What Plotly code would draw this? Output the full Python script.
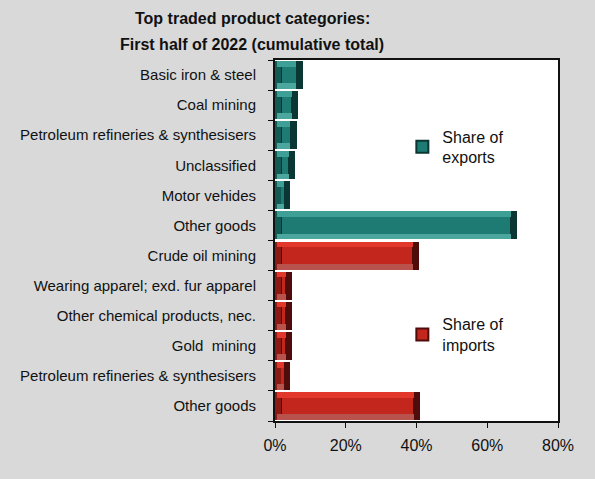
import plotly.graph_objects as go

# Top traded product categories, first half of 2022 (share of cumulative total, %)
export_categories = ["Basic iron & steel", "Coal mining", "Petroleum refineries & synthesisers",
                     "Unclassified", "Motor vehides", "Other goods"]
export_shares = [7.8, 6.6, 6.1, 5.7, 4.3, 68.5]

import_categories = ["Crude oil mining", "Wearing apparel; exd. fur apparel",
                     "Other chemical products, nec.", "Gold  mining",
                     "Petroleum refineries & synthesisers", "Other goods"]
import_shares = [40.7, 4.8, 4.8, 4.8, 4.2, 41.1]

x_ticks = [0, 20, 40, 60, 80]
x_tick_labels = ["0%", "20%", "40%", "60%", "80%"]

title_lines = ["Top traded product categories:", "First half of 2022 (cumulative total)"]

categories = export_categories + import_categories
positions = list(range(len(categories)))
exp_pos = positions[:len(export_categories)]
imp_pos = positions[len(export_categories):]

FONT = "Liberation Sans, Arial, sans-serif"
BAR_W = 0.93
BEVEL = 2.0  # depth of the bevelled ends, in axis units

palettes = {
    "exp": dict(dark="#0a3633", left="#145a54", top="#3e9f96", bottom="#4ba69d", face="#1d7b73"),
    "imp": dict(dark="#4e0d0a", left="#8c1a14", top="#e2382c", bottom="#b8524d", face="#c2261c"),
}

fig = go.Figure()


def add_bevel_bars(pos, vals, pal, name, legend):
    bev = [min(BEVEL, v * 0.42) for v in vals]
    band_x = [v - b * 0.9 - b * 0.3 for v, b in zip(vals, bev)]
    band_base = [b * 0.3 for b in bev]
    # dark body: shows at the bevelled right end
    fig.add_trace(go.Bar(y=pos, x=vals, orientation="h", width=BAR_W,
                         marker=dict(color=pal["dark"], line=dict(width=0)),
                         showlegend=False, hoverinfo="skip"))
    # shaded left end
    fig.add_trace(go.Bar(y=pos, x=[b * 0.9 for b in bev], orientation="h", width=BAR_W,
                         marker=dict(color=pal["left"], line=dict(width=0)),
                         showlegend=False, hoverinfo="skip"))
    # upper highlight band
    fig.add_trace(go.Bar(y=pos, x=band_x, base=band_base, orientation="h",
                         width=0.19, offset=-BAR_W / 2,
                         marker=dict(color=pal["top"], line=dict(width=0)),
                         showlegend=False, hoverinfo="skip"))
    # lower band
    fig.add_trace(go.Bar(y=pos, x=band_x, base=band_base, orientation="h",
                         width=0.19, offset=BAR_W / 2 - 0.19,
                         marker=dict(color=pal["bottom"], line=dict(width=0)),
                         showlegend=False, hoverinfo="skip"))
    # central face
    fig.add_trace(go.Bar(y=pos, x=[v - 2 * b for v, b in zip(vals, bev)],
                         base=bev, orientation="h",
                         width=BAR_W - 0.38, offset=-(BAR_W - 0.38) / 2,
                         marker=dict(color=pal["face"], line=dict(width=0)),
                         showlegend=False, hoverinfo="skip"))
    # legend entry
    fig.add_trace(go.Bar(y=[None], x=[None], orientation="h", name=name,
                         marker=dict(color=pal["face"], line=dict(color=pal["dark"], width=2)),
                         legend=legend, showlegend=True))


add_bevel_bars(exp_pos, export_shares, palettes["exp"], "Share of<br>exports", "legend")
add_bevel_bars(imp_pos, import_shares, palettes["imp"], "Share of<br>imports", "legend2")

legend_style = dict(bgcolor="rgba(0,0,0,0)", borderwidth=0,
                    font=dict(family=FONT, size=16, color="#111111"),
                    xanchor="left", yanchor="top", itemwidth=30, tracegroupgap=0)

# two-line bold title, centred over the left part of the figure
for i, line in enumerate(title_lines):
    fig.add_annotation(text=f"<b>{line}</b>", xref="paper", yref="paper",
                       x=-0.081, y=1.116 - i * 0.072, xanchor="center", yanchor="middle",
                       showarrow=False, font=dict(family=FONT, size=16, color="#111111"))

fig.update_layout(
    width=595, height=479,
    margin=dict(l=275, r=37, t=60, b=58),
    paper_bgcolor="#d9d9d9",
    plot_bgcolor="#ffffff",
    barmode="overlay",
    bargap=0,
    legend=dict(x=0.45, y=0.835, **legend_style),
    legend2=dict(x=0.45, y=0.315, **legend_style),
    xaxis=dict(range=[0, 80], tickvals=x_ticks, ticktext=x_tick_labels,
               showgrid=False, zeroline=False,
               showline=True, linecolor="#111111", linewidth=2, mirror=True,
               ticks="outside", ticklen=5, tickcolor="#111111", tickwidth=1,
               ticklabelstandoff=4,
               tickfont=dict(family=FONT, size=16, color="#111111")),
    yaxis=dict(range=[len(categories) - 0.5, -0.5], tickvals=positions, ticktext=categories,
               showgrid=False, zeroline=False,
               showline=True, linecolor="#111111", linewidth=2, mirror=True,
               ticks="", ticklabelstandoff=14,
               minor=dict(tickvals=[p + 0.5 for p in positions[:-1]] + [-0.5, len(categories) - 0.5],
                          ticks="outside", ticklen=5, tickcolor="#111111", tickwidth=1,
                          showgrid=False),
               tickfont=dict(family=FONT, size=15, color="#111111")),
)

fig.write_html("out.html")
